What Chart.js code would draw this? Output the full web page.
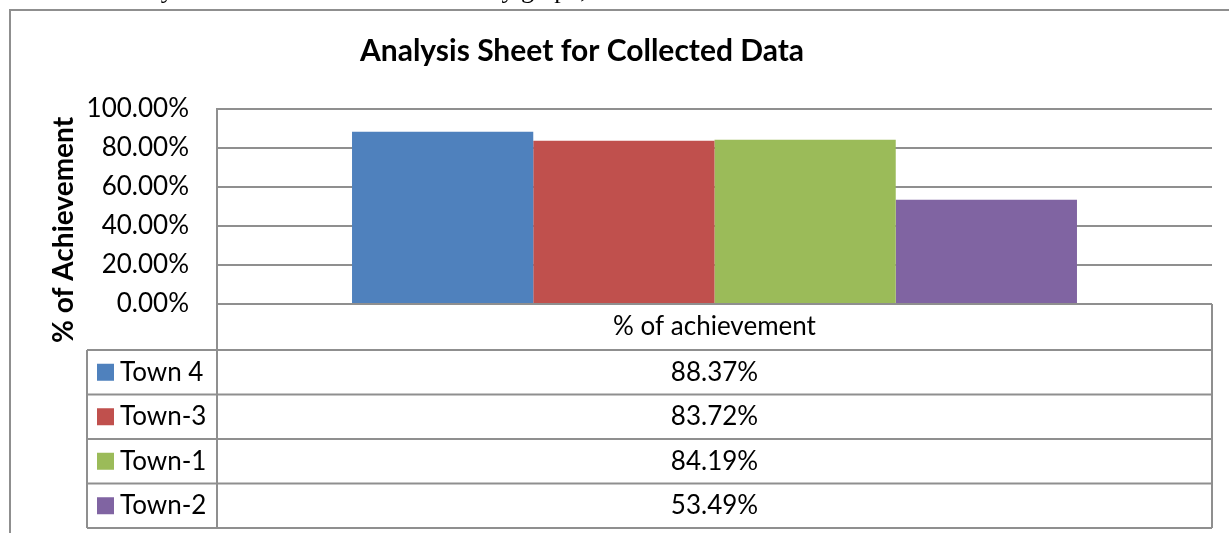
<!DOCTYPE html>
<html>
<head>
<meta charset="utf-8">
<script src="https://cdn.jsdelivr.net/npm/chart.js@4"></script>
<style>
html, body { margin: 0; padding: 0; background: #fff; overflow: hidden; }
#area { position: relative; width: 1229px; height: 533px; }
#grafico { position: absolute; left: 0; top: 0; }
#texto {
    position: absolute; left: 100px; top: -23px;
    font-family: "Liberation Serif"; font-size: 26px; line-height: 26px;
    white-space: nowrap; color: #000;
}
</style>
</head>
<body>
<div id="area">
    <canvas id="grafico" width="1229" height="533"></canvas>
    <div id="texto">Finally we can show the information by graph,</div>
</div>
<script>
const titulo = 'Analysis Sheet for Collected Data';
const titulo_eixo_y = '% of Achievement';
const categorias = ['% of achievement'];
const cidades = ['Town 4', 'Town-3', 'Town-1', 'Town-2'];
const valores = [88.37, 83.72, 84.19, 53.49];
const ticks_y = [0, 20, 40, 60, 80, 100];
const cores = ['#4F81BD', '#C0504D', '#9BBB59', '#8064A2'];

const cinza = '#8f8f8f';
const fonte = 'Lato';

// titulo, eixo y, moldura e tabela de dados (estilo Excel)
const extras = {
    id: 'extras',
    afterDraw(chart) {
        const ctx = chart.ctx;
        const area = chart.chartArea;
        const x = chart.scales.x;
        const topo = area.bottom;
        const alt_cab = 46;
        const alt_linha = 44.5;
        const esq = 87;
        const fim = topo + alt_cab + cidades.length * alt_linha;

        ctx.save();

        // moldura externa
        ctx.strokeStyle = cinza;
        ctx.lineWidth = 2;
        ctx.beginPath();
        ctx.moveTo(10, chart.height);
        ctx.lineTo(10, 10);
        ctx.lineTo(chart.width, 10);
        ctx.stroke();

        // titulo
        ctx.fillStyle = '#000';
        ctx.font = 'bold 30px ' + fonte;
        ctx.textAlign = 'center';
        ctx.textBaseline = 'alphabetic';
        ctx.fillText(titulo, 582, 61);

        // titulo do eixo y
        ctx.save();
        ctx.translate(73, 230);
        ctx.rotate(-Math.PI / 2);
        ctx.font = 'bold 28px ' + fonte;
        ctx.fillText(titulo_eixo_y, 0, 0);
        ctx.restore();

        // linhas da tabela
        ctx.beginPath();
        ctx.moveTo(area.left, topo); ctx.lineTo(area.right, topo);
        for (let i = 0; i <= cidades.length; i++) {
            const y = topo + alt_cab + i * alt_linha;
            ctx.moveTo(esq, y); ctx.lineTo(area.right, y);
        }
        ctx.moveTo(esq, topo + alt_cab); ctx.lineTo(esq, fim);
        ctx.moveTo(area.left, topo); ctx.lineTo(area.left, fim);
        ctx.moveTo(area.right, topo); ctx.lineTo(area.right, fim);
        ctx.stroke();

        // textos da tabela
        ctx.font = '26px ' + fonte;
        ctx.textBaseline = 'middle';
        ctx.textAlign = 'center';
        ctx.fillStyle = '#000';
        const xc = x.getPixelForValue(0);
        ctx.fillText(categorias[0], xc, topo + alt_cab / 2);

        cidades.forEach((c, i) => {
            const yc = topo + alt_cab + alt_linha * (i + 0.5);
            ctx.textAlign = 'center';
            ctx.fillStyle = '#000';
            ctx.fillText(valores[i].toFixed(2) + '%', xc, yc);
            ctx.fillStyle = cores[i];
            ctx.fillRect(97, yc - 8.5, 17, 17);
            ctx.fillStyle = '#000';
            ctx.textAlign = 'left';
            ctx.fillText(c, 120, yc);
        });

        ctx.restore();
    }
};

const chart = new Chart(document.getElementById('grafico'), {
    type: 'bar',
    data: {
        labels: categorias,
        datasets: cidades.map((c, i) => ({
            label: c,
            data: [valores[i]],
            backgroundColor: cores[i],
            borderWidth: 0,
            categoryPercentage: 0.7286,
            barPercentage: 1
        }))
    },
    options: {
        responsive: false,
        animation: false,
        devicePixelRatio: 1,
        layout: { padding: { left: 10, top: 109, right: 17, bottom: 229 } },
        plugins: {
            legend: { display: false },
            title: { display: false },
            tooltip: { enabled: false }
        },
        scales: {
            x: { display: false },
            y: {
                min: 0,
                max: 100,
                afterFit(scale) { scale.width = 207; },
                afterBuildTicks(scale) { scale.ticks = ticks_y.map(v => ({ value: v })); },
                ticks: {
                    padding: 28,
                    color: '#000',
                    font: { family: fonte, size: 26 },
                    callback: v => v.toFixed(2) + '%'
                },
                grid: { color: cinza, lineWidth: 2, drawTicks: false },
                border: { display: true, color: cinza, width: 2 }
            }
        }
    },
    plugins: [extras]
});
</script>
</body>
</html>
